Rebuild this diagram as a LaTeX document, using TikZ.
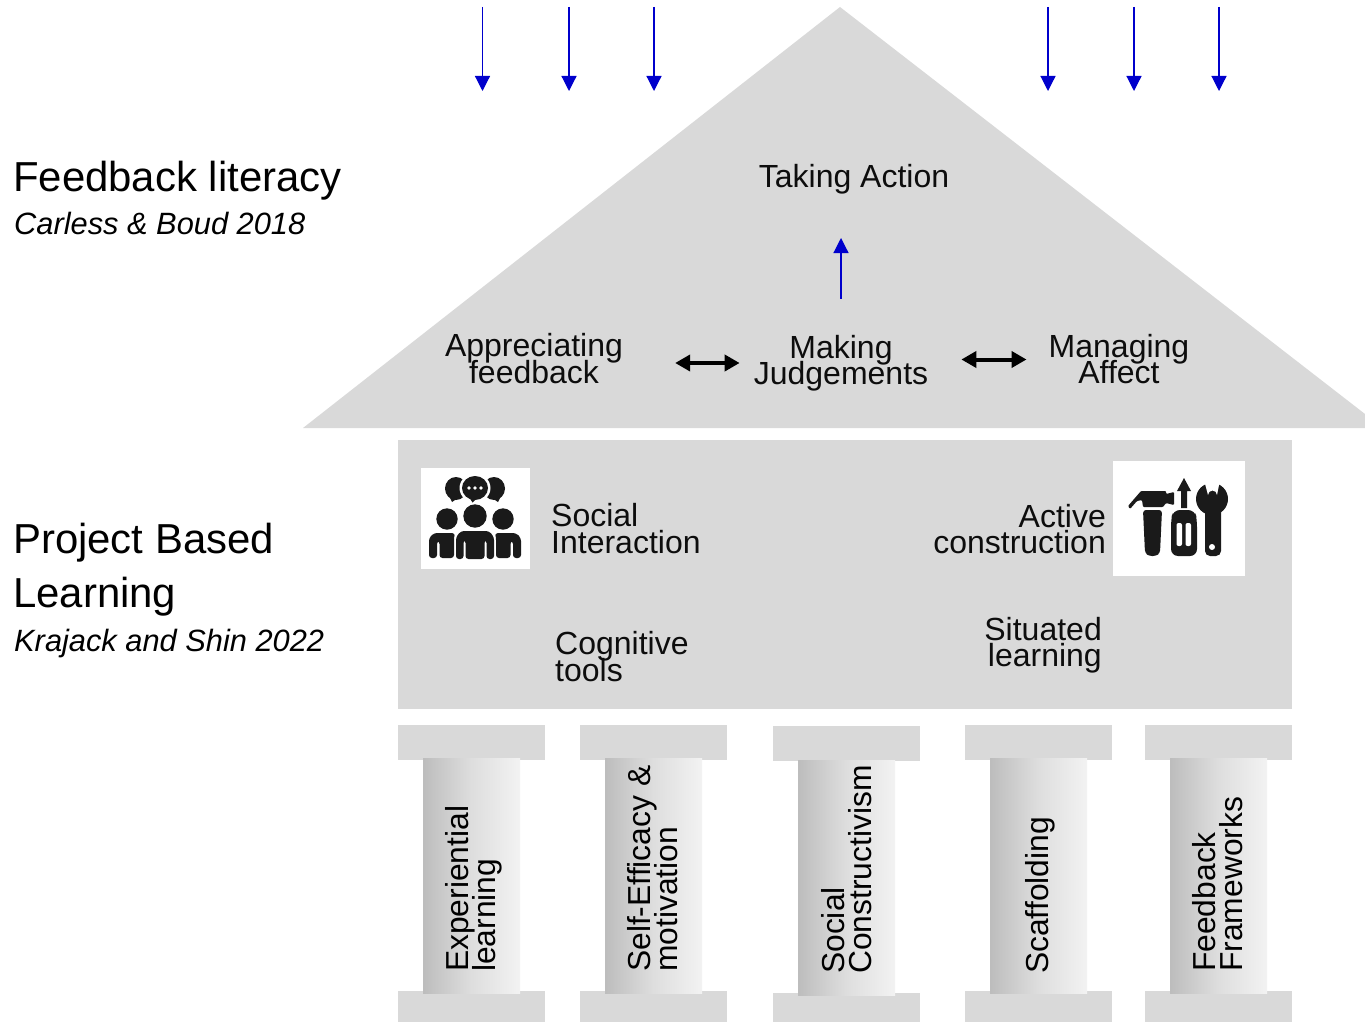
\documentclass[tikz,border=0pt]{standalone}
\usepackage{fontspec}
\setmainfont{Liberation Sans}
\usetikzlibrary{arrows.meta,calc}
\definecolor{house}{HTML}{D9D9D9}
\definecolor{bluearrow}{HTML}{0000CC}
\definecolor{icon}{HTML}{1A1A1A}
\newcommand\tightlines{\lineskiplimit -100pt\relax}
\tikzset{
  x=1pt,y=-1pt,
  blue arrow/.style={draw=bluearrow,line width=1.2pt,-{Triangle[length=15pt,width=15pt,fill=bluearrow]}},
  double arrow/.style={draw=black,line width=4pt,{Triangle[length=15pt,width=16pt]}-{Triangle[length=15pt,width=16pt]}},
  block/.style={fill=house,draw=none},
  shaft/.style={left color=black!26,right color=black!5,middle color=black!13,draw=none},
  label/.style={inner sep=0pt,font=\fontsize{32}{26.5}\selectfont\tightlines,text=black!95,align=center},
  pillartext/.style={inner sep=0pt,font=\fontsize{31.8}{27}\selectfont\tightlines,align=left,rotate=90,anchor=north west},
  heading/.style={inner sep=0pt,anchor=north west,font=\fontsize{41.9}{54}\selectfont,align=left},
  cite/.style={inner sep=0pt,anchor=north west,font=\fontsize{30.8}{36}\itshape\selectfont},
  iconfill/.style={fill=icon,draw=none},
}
\begin{document}
\begin{tikzpicture}
\useasboundingbox (0,0) rectangle (1365,1022);
% roof and body
\fill[block] (840,7) -- (303,428) -- (1365,428) -- (1365,414) -- cycle;
\fill[block] (398,440) rectangle (1292,709);
% pillars
\foreach \cx/\sx/\tt/\bb/\st/\sb in {398/423/725/991/758/993,580/605/725/991/758/993,773/798/726/993/760/995,965/990/725/991/758/993,1145/1170/725/991/758/993}{
  \fill[block] (\cx,\tt) rectangle ++(147,35);
  \fill[block] (\cx,\bb) rectangle (\cx+147,1022);
  \shade[shaft] (\sx,\st) rectangle (\sx+97,\sb);
}
% headings
\node[heading] (fl) at (13,161) {Feedback literacy};
\node[cite] (cb) at (14,212) {Carless \& Boud 2018};
\node[heading] (pbl) at (13,523) {Project Based\\Learning};
\node[cite] (ks) at (14,629) {Krajack and Shin 2022};
% roof labels
\node[label] (act) at (854,179) {Taking Action};
\node[label] (appr) at (534,358.5) {Appreciating\\feedback};
\node[label] (mak) at (841,363) {Making\\Judgements};
\node[label] (man) at (1119,359) {Managing\\Affect};
\draw[blue arrow,shorten <=36pt] (mak.north) -- (mak.north |- 0,238) coordinate (up);
\draw[double arrow] ([yshift=-4.5pt,xshift=52pt]appr.east) -- ([yshift=0pt,xshift=-14pt]mak.west);
\draw[double arrow] ([yshift=3.5pt,xshift=33pt]mak.east) -- ([yshift=-0.5pt,xshift=-22pt]man.west);
% incoming arrows
\foreach \n/\x in {a/482.5,b/569,c/654,d/1048,e/1134,f/1219}{
  \coordinate (top\n) at (\x,7);
  \coordinate (end\n) at (\x,91);
  \draw[blue arrow] (top\n) -- (end\n);
}
% body labels
\node[label,align=left,anchor=west] (si) at (551,528.5) {Social\\Interaction};
\node[label,align=right,anchor=east] (ac) at (1106,529) {Active\\construction};
\node[label,align=left,anchor=west] (ct) at (555,656.5) {Cognitive\\tools};
\node[label,align=right,anchor=east] (sl) at (1102,645) {Situated\\learning};
% social icon
\fill[white] (421,468) rectangle (530,569);
\begin{scope}
  \fill[iconfill] (456,488.5) ellipse (11 and 11.5);
  \fill[iconfill] (494,488.5) ellipse (11 and 11.5);
  \fill[iconfill] (449,496) -- (452,502) -- (458,498) -- cycle;
  \fill[iconfill] (501,496) -- (498,502) -- (492,498) -- cycle;
  \fill[white] (475,488) ellipse (15.5 and 14.5);
  \fill[white] (468,498) -- (472,505) -- (480,498) -- cycle;
  \fill[iconfill] (475,488) ellipse (13 and 12);
  \fill[iconfill] (469,497) -- (472.5,502.5) -- (478,497) -- cycle;
  \foreach \dx in {469,475,481} \fill[white] (\dx,488) circle (1.8);
  \fill[iconfill] (475,516) circle (11.7);
  \fill[iconfill] (447,519) circle (10.7);
  \fill[iconfill] (503,519) circle (10.7);
  % centre figure, with one slit each side between arm and torso
  \fill[iconfill,rounded corners=3pt] (456,559) -- (456,537) -- (461,531) -- (489,531) -- (494,537) -- (494,559) -- (486.5,559) -- (486.5,540) -- (484.5,540) -- (484.5,559) -- (465.5,559) -- (465.5,540) -- (463.5,540) -- (463.5,559) -- cycle;
  % left figure
  \fill[iconfill,rounded corners=3pt] (429,558) -- (429,538) -- (434,533) -- (455,533) -- (454,537) -- (454,558) -- (439.5,558) -- (439.5,541) -- (437,541) -- (437,558) -- cycle;
  % right figure
  \fill[iconfill,rounded corners=3pt] (521,558) -- (521,538) -- (516,533) -- (495,533) -- (496,537) -- (496,558) -- (510.5,558) -- (510.5,541) -- (513,541) -- (513,558) -- cycle;
\end{scope}
% tools icon
\fill[white] (1113,461) rectangle (1245,576);
\begin{scope}
  % hammer
  \fill[iconfill,rounded corners=1pt] (1128,506) -- (1141,491) -- (1166,491) -- (1166,494) -- (1174,492) -- (1174,505) -- (1166,503) -- (1163,507) -- (1143,507) -- (1142,500) -- (1137,501) -- (1130,509) -- cycle;
  \fill[iconfill,rounded corners=3pt] (1143,510) -- (1162,510) -- (1160,553) -- (1156,556) -- (1149,556) -- (1145,553) -- cycle;
  % screwdriver
  \fill[iconfill] (1184,478) -- (1191,491) -- (1187,491) -- (1187,508) -- (1181,508) -- (1181,491) -- (1177,491) -- cycle;
  \fill[iconfill,rounded corners=7pt] (1173,510) -- (1195,510) -- (1197,520) -- (1197,556) -- (1171,556) -- (1171,520) -- cycle;
  \fill[white,rounded corners=2pt] (1176.5,523) rectangle (1182,546);
  \fill[white,rounded corners=2pt] (1185.5,523) rectangle (1191,546);
  % wrench
  \fill[iconfill] (1212,499) circle (16);
  \fill[iconfill,rounded corners=5pt] (1205,505) rectangle (1221,556);
  \fill[iconfill] (1205,505) rectangle (1221,545);
  \fill[white] (1204,480) -- (1220,480) -- (1217,495) arc (0:-180:4.5) -- cycle;
  \fill[white] (1212,547) circle (3);
\end{scope}
% pillar labels
\node[pillartext] (p1) at (445,972) {Experiential\\learning};
\node[pillartext] (p2) at (627,972) {Self-Efficacy \&\\motivation};
\node[pillartext] (p3) at (821,974) {Social\\Constructivism};
\node[pillartext] (p4) at (1025,974) {Scaffolding};
\node[pillartext] (p5) at (1192,972) {Feedback\\Frameworks};
\end{tikzpicture}
\end{document}
